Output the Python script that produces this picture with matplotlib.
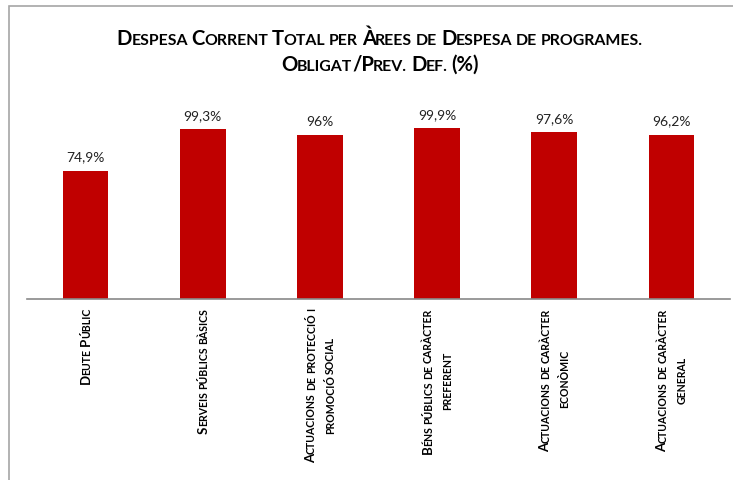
import numpy as np
import matplotlib
matplotlib.use("Agg")
import matplotlib.pyplot as plt
from matplotlib.patches import Rectangle
from matplotlib.transforms import IdentityTransform

# data
values = [74.9, 99.3, 96.0, 99.9, 97.6, 96.2]
value_labels = ["74,9%", "99,3%", "96%", "99,9%", "97,6%", "96,2%"]
category_lines = [
    ["Deute Públic"],
    ["Serveis públics bàsics"],
    ["Actuacions de protecció i", "promoció social"],
    ["Béns públics de caràcter", "preferent"],
    ["Actuacions de caràcter", "econòmic"],
    ["Actuacions de caràcter", "general"],
]
title_lines = ["Despesa Corrent Total per Àrees de Despesa de programes.",
               "Obligat/Prev. Def. (%)"]

FONT = "Lato"
W, H = 733, 481
fig = plt.figure(figsize=(W / 100, H / 100), dpi=100)
renderer = fig.canvas.get_renderer()

# outer frame (clipped on the right and bottom like the screenshot)
fig.patches.append(Rectangle((9 / W, -0.2), 1.5, 1 - 7 / H + 0.2, transform=fig.transFigure,
                             fill=False, edgecolor="#A6A6A6", linewidth=1.2))

ax = fig.add_axes([27 / W, 1 - 300 / H, 703 / W, 188 / H])
x = list(range(len(values)))
ax.bar(x, values, width=0.39, color="#C00000")
ax.set_xlim(-0.5, len(values) - 0.5)
ax.set_ylim(0, 110)
for s in ["top", "left", "right"]:
    ax.spines[s].set_visible(False)
ax.spines["bottom"].set_color("#898989")
ax.spines["bottom"].set_linewidth(1.2)
ax.set_xticks([])
ax.set_yticks([])
for i, v in enumerate(values):
    ax.annotate(value_labels[i], (i, v), xytext=(0, 6), textcoords="offset points",
                ha="center", va="bottom", fontsize=10, family=FONT, color="#222222")


# fake small caps: capitals big, lowercase letters as smaller capitals
def sc_runs(s):
    runs = []
    for ch in s:
        if ch == " ":
            kind = "space"
        elif ch.islower():
            kind = "small"
            ch = ch.upper()
        elif ch in ".," and runs and runs[-1][0] != "space":
            kind = runs[-1][0]
        else:
            kind = "big"
        if runs and runs[-1][0] == kind:
            runs[-1][1] += ch
        else:
            runs.append([kind, ch])
    return runs


def adv(s, size):
    t = fig.text(0, 0, s, fontsize=size, fontweight="bold", family=FONT)
    w = t.get_window_extent(renderer).width
    t.remove()
    return w


# rotated text lands a bit off compared with horizontal text, so measure the ink
scratch = plt.figure(figsize=(4, 4), dpi=100)
_ink_cache = {}


def ink_start(txt, size, rot):
    key = (txt, size, rot)
    if key not in _ink_cache:
        scratch.clf()
        scratch.text(150, 150, txt, transform=IdentityTransform(), fontsize=size,
                     fontweight="bold", family=FONT, rotation=90 if rot else 0,
                     rotation_mode="anchor", ha="left", va="baseline")
        scratch.canvas.draw()
        img = np.asarray(scratch.canvas.buffer_rgba())[:, :, 0] < 160
        if rot:
            rows = np.where(img.any(axis=1))[0]
            _ink_cache[key] = (400 - rows.max() - 1) - 150
        else:
            cols = np.where(img.any(axis=0))[0]
            _ink_cache[key] = cols.min() - 150
    return _ink_cache[key]


def layout(s, big, small):
    pieces = []
    pos = 0
    prev = None
    for kind, txt in sc_runs(s):
        if kind == "space":
            pos += len(txt) * adv(" ", small)
            prev = None
            continue
        size = big if kind == "big" else small
        if prev is not None and "/" not in (txt[0], prev[-1]):
            # crude kerning where two runs of different size meet
            pos -= 0.05 * size * 100 / 72
        pieces.append((pos, txt, size))
        pos += adv(txt, size)
        prev = txt
    return pieces, pos


def draw_line(s, big, small, x0, y0, rot):
    pieces, total = layout(s, big, small)
    for off, txt, size in pieces:
        if rot:
            off = off + ink_start(txt, size, False) - ink_start(txt, size, True)
            xy = (x0, y0 + off)
        else:
            xy = (x0 + off, y0)
        fig.text(xy[0], xy[1], txt, transform=IdentityTransform(), fontsize=size,
                 fontweight="bold", family=FONT, rotation=90 if rot else 0,
                 rotation_mode="anchor", ha="left", va="baseline", color="black")
    return total


# title
TB, TS = 14.6, 11.4
for k, line in enumerate(title_lines):
    _, total = layout(line, TB, TS)
    draw_line(line, TB, TS, 380 - total / 2, H - (45 + 26 * k), False)

# category labels, rotated, top edge just below the axis
BIG, SMALL = 9.5, 7.6
top = H - 310
for i, lines in enumerate(category_lines):
    cx = ax.transData.transform((i, 0))[0]
    lengths = [layout(l, BIG, SMALL)[1] for l in lines]
    lmax = max(lengths)
    mid = top - lmax / 2
    n = len(lines)
    for j, line in enumerate(lines):
        base_x = cx + (j - (n - 1) / 2) * 19 + 4.5
        draw_line(line, BIG, SMALL, base_x, mid - lengths[j] / 2, True)

plt.close(scratch)
fig.savefig("out.png", dpi=100)
